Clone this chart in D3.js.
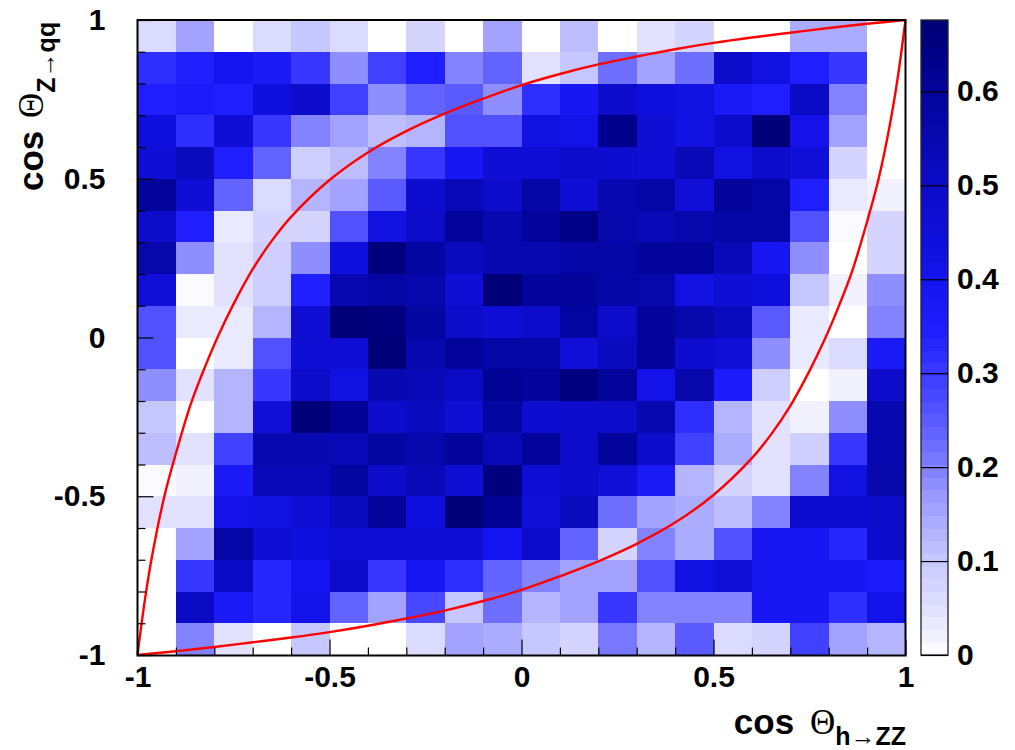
<!DOCTYPE html>
<html>
<head>
<meta charset="utf-8">
<script src="https://cdn.jsdelivr.net/npm/d3@7/dist/d3.min.js"></script>
<style>
html,body{margin:0;padding:0;background:#fff;}
svg{display:block;}
text{font-family:"Liberation Sans",Arial,sans-serif;font-weight:bold;fill:#000;}
</style>
</head>
<body>
<svg id="c" width="1015" height="750"></svg>
<script>
// Bin contents, top row (cos Theta_Z 0.9..1) to bottom row (-1..-0.9), left to right in cos Theta_h
const cellValues = [
 [.06,.15,0,.06,.10,.06,0,.07,0,.15,0,.12,0,.05,.08,0,0,.14,.14,0],
 [.32,.35,.40,.37,.30,.18,.29,.34,.19,.24,.05,.10,.22,.15,.22,.50,.42,.34,.31,0],
 [.34,.36,.34,.44,.50,.29,.18,.23,.25,.18,.32,.39,.50,.44,.43,.37,.34,.51,.19,0],
 [.44,.32,.47,.31,.19,.15,.12,.125,.27,.27,.42,.41,.63,.46,.43,.50,.67,.41,.15,0],
 [.47,.52,.34,.23,.09,.12,.20,.30,.39,.47,.47,.49,.48,.47,.53,.43,.50,.45,.08,0],
 [.60,.46,.24,.06,.13,.16,.25,.48,.53,.50,.57,.46,.55,.57,.45,.60,.58,.34,.04,.02],
 [.50,.34,.03,.07,.08,.27,.43,.50,.60,.55,.60,.64,.56,.53,.56,.58,.58,.26,.01,.07],
 [.56,.18,.045,.09,.18,.44,.66,.59,.52,.55,.55,.57,.57,.60,.60,.54,.39,.18,0,.07],
 [.45,.01,.045,.09,.34,.55,.57,.56,.47,.67,.60,.60,.58,.56,.43,.46,.44,.10,.015,.18],
 [.27,.03,.03,.13,.46,.67,.66,.59,.50,.47,.49,.59,.50,.60,.56,.52,.25,.03,0,.20],
 [.27,0,.03,.27,.46,.46,.68,.55,.60,.57,.57,.45,.52,.60,.48,.45,.18,.03,.06,.37],
 [.18,.05,.125,.30,.50,.43,.55,.54,.51,.61,.60,.65,.60,.41,.56,.36,.09,0,.015,.49],
 [.10,0,.125,.45,.68,.62,.50,.52,.47,.59,.48,.50,.49,.55,.32,.13,.05,.015,.18,.55],
 [.11,.05,.29,.55,.55,.53,.59,.56,.60,.54,.60,.50,.60,.49,.29,.14,.05,.09,.30,.55],
 [.01,.02,.37,.54,.54,.59,.50,.53,.46,.66,.46,.50,.45,.37,.13,.08,.05,.20,.42,.56],
 [.045,.05,.41,.42,.47,.52,.60,.44,.68,.62,.45,.52,.22,.16,.14,.12,.20,.48,.48,.50],
 [0,.15,.58,.46,.44,.46,.46,.46,.46,.40,.49,.23,.07,.19,.14,.26,.39,.38,.33,.50],
 [0,.30,.51,.33,.40,.49,.30,.38,.32,.23,.20,.16,.15,.26,.43,.45,.39,.38,.39,.36],
 [0,.51,.37,.33,.41,.24,.16,.28,.10,.22,.13,.16,.30,.20,.19,.20,.39,.39,.32,.41],
 [0,.20,.045,0,.10,0,0,.06,.16,.14,.10,.08,.21,.13,.25,.06,.08,.29,.16,.125]
];
const zMax = 0.676;
const contourCount = 50;
const rampStops  = [0,.05,.10,.16,.20,.24,.29,.34,.40,.43,.50,.55,.60,.63,.67];
const rampColors = ["#ffffff","#e0e0ff","#c8c8ff","#a0a0ff","#8080ff","#6060ff","#4040ff","#2020ff","#1414f0","#1010e0","#0c0cc8","#0808b0","#04049c","#00008c","#000078"];
const xTicksMajor = [-1,-0.5,0,0.5,1];
const yTicksMajor = [-1,-0.5,0,0.5,1];
const minorTicks = [-.9,-.8,-.7,-.6,-.4,-.3,-.2,-.1,.1,.2,.3,.4,.6,.7,.8,.9];
const barTicks = [0,.1,.2,.3,.4,.5,.6];
const upperCurveX = [-1,-.98,-.96,-.93,-.9,-.86,-.82,-.79,-.75,-.7,-.65,-.6,-.5,-.4,-.3,-.2,-.1,0,.1,.2,.3,.4,.5,.6,.7,.8,.9,1];
const upperCurveY = [-1,-.82,-.675,-.50,-.365,-.205,-.08,.005,.105,.215,.305,.38,.496,.583,.65,.705,.752,.795,.83,.86,.885,.908,.928,.945,.96,.975,.988,1];
const lowerCurveX = [-1,-.9,-.8,-.7,-.6,-.5,-.4,-.3,-.2,-.1,0,.1,.2,.3,.4,.5,.6,.65,.7,.75,.79,.82,.86,.9,.93,.96,.98,1];
const lowerCurveY = [-1,-.988,-.975,-.96,-.945,-.928,-.908,-.885,-.86,-.83,-.795,-.752,-.705,-.65,-.583,-.496,-.38,-.305,-.215,-.105,-.005,.08,.205,.365,.50,.675,.82,1];

const svg = d3.select("#c");
const x = d3.scaleLinear().domain([-1,1]).range([137.5,905.5]);
const y = d3.scaleLinear().domain([-1,1]).range([655,20]);
const z = d3.scaleLinear().domain([0,zMax]).range([655,20]);
const ramp = d3.scaleLinear().domain(rampStops).range(rampColors).clamp(true);
const band = zMax/contourCount;
const colorOf = v => ramp(Math.floor(v/band)*band + band/2);
const nCols = cellValues[0].length, nRows = cellValues.length;
const colEdge = d3.scaleLinear().domain([0,nCols]).range(x.domain());
const rowEdge = d3.scaleLinear().domain([0,nRows]).range([1,-1]);

// cells
svg.append("g").attr("shape-rendering","crispEdges")
  .selectAll("g").data(cellValues).join("g")
  .each(function(row,r){
    d3.select(this).selectAll("rect").data(row).join("rect")
      .attr("x",(d,i)=>x(colEdge(i)))
      .attr("width",(d,i)=>x(colEdge(i+1))-x(colEdge(i))+0.5)
      .attr("y",y(rowEdge(r)))
      .attr("height",y(rowEdge(r+1))-y(rowEdge(r))+0.5)
      .attr("fill",d=>d<=0?"#fff":colorOf(d));
  });

// colour bar
const barL=921, barW=27;
svg.append("g").attr("shape-rendering","crispEdges")
  .selectAll("rect").data(d3.range(contourCount)).join("rect")
  .attr("x",barL).attr("width",barW)
  .attr("y",i=>z((i+1)*band)).attr("height",i=>z(i*band)-z((i+1)*band)+0.5)
  .attr("fill",i=>colorOf((i+0.5)*band));

// red curves
const line = d3.line().x(d=>x(d[0])).y(d=>y(d[1])).curve(d3.curveCatmullRom.alpha(0.5));
[[upperCurveX,upperCurveY],[lowerCurveX,lowerCurveY]].forEach(([xs,ys])=>{
  svg.append("path").datum(xs.map((v,i)=>[v,ys[i]]))
    .attr("d",line).attr("fill","none").attr("stroke","#ff0000").attr("stroke-width",2.4);
});

function clean(g){ g.select(".domain").remove(); g.selectAll("line").attr("stroke","#000").attr("stroke-width",1.2); g.selectAll("text").style("font-size","30px"); }
// frames
svg.append("rect").attr("x",137.5).attr("y",20).attr("width",768).attr("height",635.5)
  .attr("fill","none").attr("stroke","#000").attr("stroke-width",2);
svg.append("rect").attr("x",barL).attr("y",20).attr("width",barW).attr("height",635)
  .attr("fill","none").attr("stroke","#222").attr("stroke-width",1.3);

// axes
const bottom = svg.append("g").attr("transform","translate(0,655.5)");
bottom.append("g").call(d3.axisBottom(x).tickValues(minorTicks).tickSize(-8).tickFormat("")).call(clean);
bottom.append("g").call(d3.axisBottom(x).tickValues(xTicksMajor).tickSize(-16).tickPadding(10).tickFormat(d=>String(d))).call(clean);
const left = svg.append("g").attr("transform","translate(137.5,0)");
left.append("g").call(d3.axisLeft(y).tickValues(minorTicks).tickSize(-8).tickFormat("")).call(clean);
left.append("g").call(d3.axisLeft(y).tickValues(yTicksMajor).tickSize(-16).tickPadding(32).tickFormat(d=>String(d))).call(clean);
svg.append("g").attr("transform",`translate(${barL+barW},0)`)
  .call(d3.axisRight(z).tickValues(barTicks).tickSize(-barW).tickPadding(9).tickFormat(d=>String(d))).call(clean);

// titles
function title(sel,sub,gap,drop){
  sel.append("tspan").style("font-size","35px").text("cos ");
  sel.append("tspan").style("font-size","35px").style("font-family","'Liberation Serif',serif").style("font-weight","normal").attr("dx",gap).text("\u0398");
  sel.append("tspan").style("font-size","25px").attr("dy",drop).text(sub[0]);
  sel.append("tspan").style("font-size","25px").style("font-weight","normal").text("\u2192");
  sel.append("tspan").style("font-size","25px").text(sub[1]);
}
title(svg.append("text").attr("x",906).attr("y",733.5).attr("text-anchor","end"),["h","ZZ"],6,11.5);
title(svg.append("text").attr("transform","translate(43,191) rotate(-90)"),["Z","qq"],3,12);
</script>
</body>
</html>
